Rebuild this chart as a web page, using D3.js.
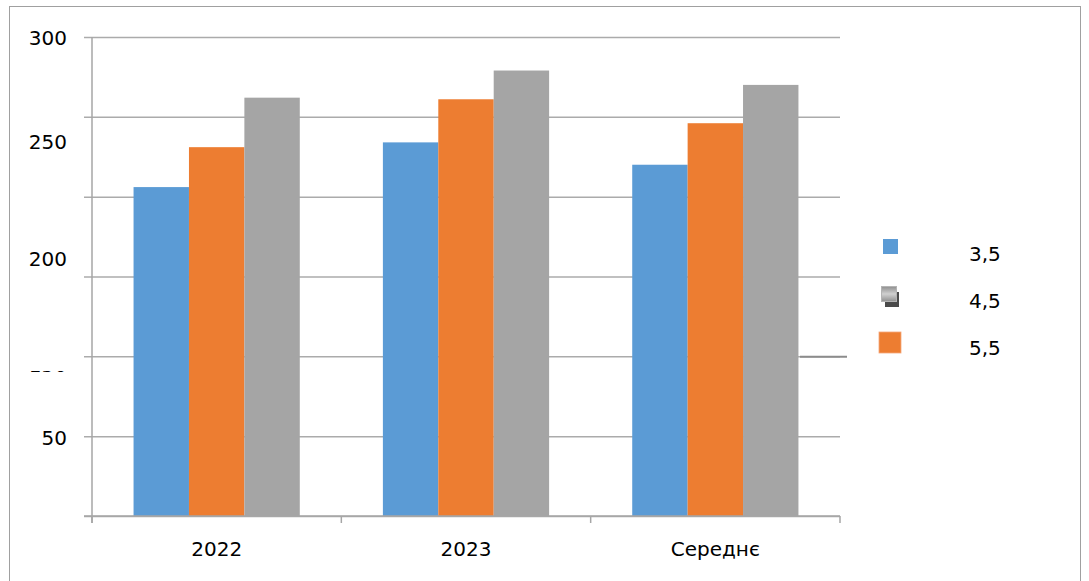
<!DOCTYPE html>
<html>
<head>
<meta charset="utf-8">
<script src="https://cdn.jsdelivr.net/npm/d3@7"></script>
<style>
  body { margin: 0; background: #fff; }
  text { font-family: "DejaVu Sans", sans-serif; font-size: 20px; fill: #000; }
</style>
</head>
<body>
<script>
// categories and series values
var categories = ["2022", "2023", "Середнє"];
var s35 = [206, 234, 220];   // blue
var s55 = [231, 261, 246];   // orange
var s45 = [262, 279, 270];   // gray
var yTicks = [0, 50, 100, 150, 200, 250, 300];
var yLabels = ["300", "250", "200", "150", "50"];
var legendNames = ["3,5", "4,5", "5,5"];

// the labels in the source image sit off their gridlines
var labelY = [38, 142, 259, 365, 438];

let chart = function() {
    let w = 1089, h = 581;
    let left = 92, right = 840, top = 37, bottom = 516;

    let svg = d3.select("body")
        .append("svg")
        .attr("width", w)
        .attr("height", h);

    // outer frame
    svg.append("rect")
        .attr("x", 9.5).attr("y", 6.5)
        .attr("width", 1071).attr("height", 600)
        .attr("fill", "none")
        .attr("stroke", "#a0a0a0");

    let x0 = d3.scaleBand().domain(categories).range([left, right]).padding(0);
    let bars = [
        { name: "3,5", values: s35, color: "#5b9bd5" },
        { name: "5,5", values: s55, color: "#ed7d31" },
        { name: "4,5", values: s45, color: "#a5a5a5" }
    ];
    let x1 = d3.scaleBand().domain(bars.map(d => d.name))
        .range([0, x0.bandwidth()]).paddingInner(0).paddingOuter(0.75);
    let y = d3.scaleLinear().domain([0, 300]).range([bottom, top]);

    // gridlines + left ticks
    svg.append("g")
        .attr("transform", "translate(" + right + ",0)")
        .call(d3.axisLeft(y).tickValues(yTicks).tickSize(right - left + 8).tickFormat(""))
        .call(g => g.select(".domain").remove())
        .selectAll("line")
        .attr("stroke", "#ababab")
        .attr("stroke-width", 1.5);

    // bars
    let groups = svg.selectAll("g.cat")
        .data(categories)
        .enter()
        .append("g")
        .attr("class", "cat")
        .attr("transform", d => "translate(" + x0(d) + ",0)");

    groups.selectAll("rect")
        .data((d, i) => bars.map(b => ({ name: b.name, value: b.values[i], color: b.color })))
        .enter()
        .append("rect")
        .attr("x", d => x1(d.name))
        .attr("y", d => y(d.value))
        .attr("width", x1.bandwidth())
        .attr("height", d => y(0) - y(d.value))
        .attr("fill", d => d.color);

    // stray darker segment at the right end of one gridline
    svg.append("line")
        .attr("x1", 800).attr("x2", 847)
        .attr("y1", y(100) + 0.5).attr("y2", y(100) + 0.5)
        .attr("stroke", "#8c8c8c").attr("stroke-width", 2);

    // y axis line
    svg.append("line")
        .attr("x1", left).attr("x2", left)
        .attr("y1", y(300)).attr("y2", y(0) + 7)
        .attr("stroke", "#a6a6a6").attr("stroke-width", 1.5);

    // x axis line and ticks at band edges
    svg.append("line")
        .attr("x1", left - 8).attr("x2", right)
        .attr("y1", y(0)).attr("y2", y(0))
        .attr("stroke", "#a6a6a6").attr("stroke-width", 1.5);
    let edges = categories.map(c => x0(c)).concat([right]);
    svg.selectAll("line.xtick")
        .data(edges)
        .enter()
        .append("line")
        .attr("class", "xtick")
        .attr("x1", d => d).attr("x2", d => d)
        .attr("y1", y(0)).attr("y2", y(0) + 7)
        .attr("stroke", "#a6a6a6").attr("stroke-width", 1.5);

    // category labels
    svg.append("g")
        .attr("transform", "translate(0," + y(0) + ")")
        .call(d3.axisBottom(x0).tickSize(0).tickPadding(26))
        .call(g => g.select(".domain").remove())
        .selectAll("text")
        .style("font-family", "DejaVu Sans, sans-serif")
        .style("font-size", "20px")
        .attr("fill", "#000");

    // y labels (one is almost fully covered in the source)
    svg.append("clipPath").attr("id", "clip150")
        .append("rect").attr("x", 0).attr("y", 371).attr("width", 80).attr("height", 2);

    svg.selectAll("text.ylab")
        .data(yLabels)
        .enter()
        .append("text")
        .attr("class", "ylab")
        .attr("x", 67)
        .attr("y", (d, i) => labelY[i])
        .attr("dy", "0.36em")
        .attr("text-anchor", "end")
        .attr("clip-path", d => d === "150" ? "url(#clip150)" : null)
        .text(d => d);

    // legend
    let lg = svg.append("g");
    lg.append("rect").attr("x", 883).attr("y", 239).attr("width", 15).attr("height", 15)
        .attr("fill", "#5b9bd5");

    let grad = svg.append("defs").append("linearGradient")
        .attr("id", "gg").attr("x1", 0).attr("y1", 0).attr("x2", 0).attr("y2", 1);
    grad.append("stop").attr("offset", "0%").attr("stop-color", "#8f8f8f");
    grad.append("stop").attr("offset", "50%").attr("stop-color", "#d0d0d0");
    grad.append("stop").attr("offset", "100%").attr("stop-color", "#8f8f8f");
    lg.append("rect").attr("x", 885).attr("y", 292).attr("width", 14).attr("height", 15)
        .attr("fill", "#4a4a4a");
    lg.append("rect").attr("x", 881.5).attr("y", 286.5).attr("width", 15).attr("height", 15)
        .attr("fill", "url(#gg)").attr("stroke", "#b4b4b4");

    lg.append("rect").attr("x", 879).attr("y", 332).attr("width", 22).attr("height", 21)
        .attr("fill", "#ed7d31").attr("stroke", "#f4a77a").attr("stroke-width", 0.8);

    lg.selectAll("text")
        .data(legendNames)
        .enter()
        .append("text")
        .attr("x", 969)
        .attr("y", (d, i) => 254 + i * 47)
        .attr("dy", "0.36em")
        .text(d => d);
};

chart();
</script>
</body>
</html>
